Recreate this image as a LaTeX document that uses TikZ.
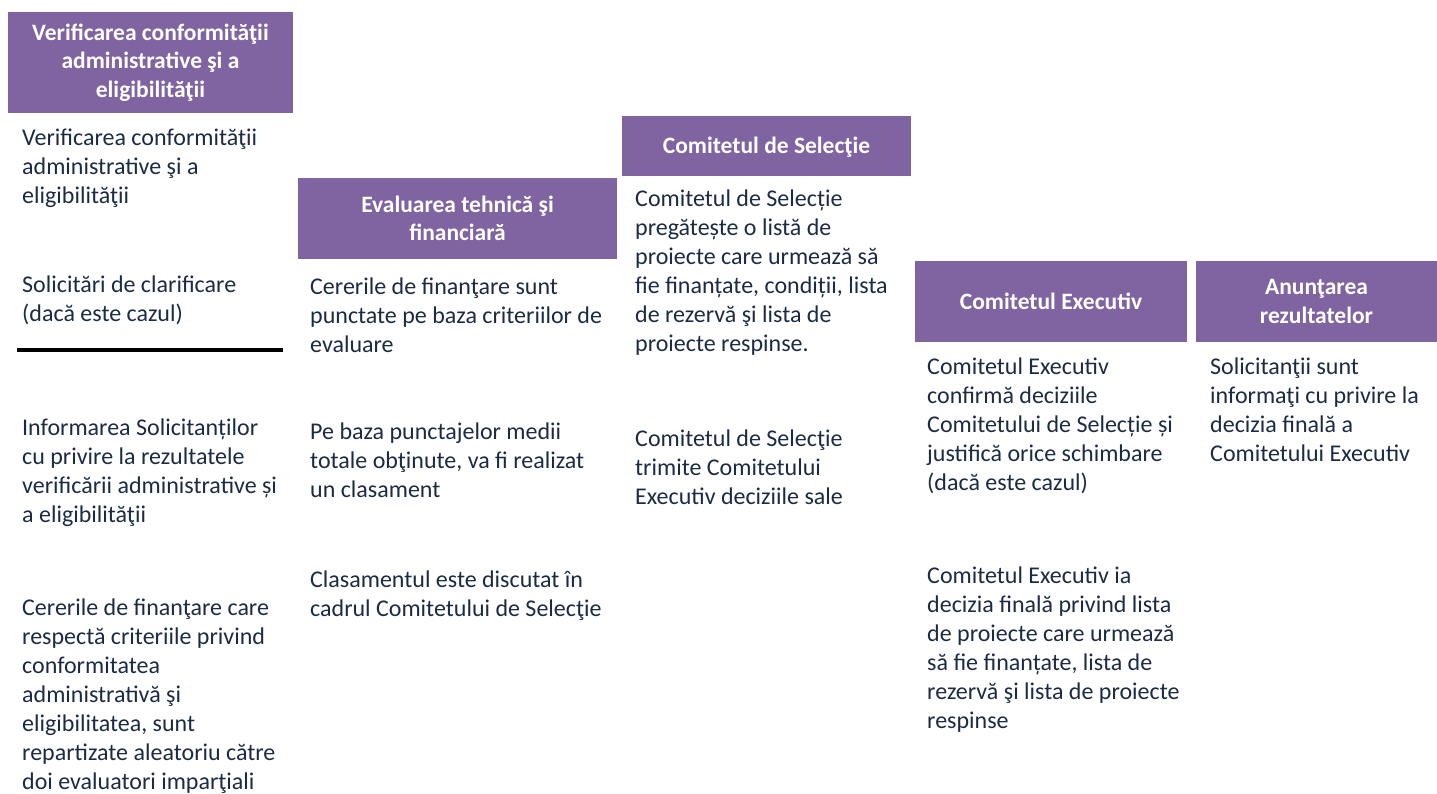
\documentclass[tikz,border=0pt]{standalone}
\usepackage{fontspec}
\setmainfont{Carlito}
\usepackage{tikz}
\usetikzlibrary{positioning}
\definecolor{hdrpurple}{HTML}{8064A2}
\definecolor{bodynavy}{HTML}{1C2B45}

\begin{document}
\begin{tikzpicture}[x=1pt, y=-1pt,
    header/.style={fill=hdrpurple, text=white, align=center, inner sep=0pt,
        font=\fontsize{23.5}{28.5}\selectfont\bfseries},
    body/.style={text=bodynavy, align=left, anchor=north west, inner sep=0pt,
        yshift=20.3pt, execute at begin node=\strut,
        font=\fontsize{24}{29}\selectfont}]
    \useasboundingbox (0,0) rectangle (1437,794);

    % Headers
    \node[header, minimum width=285pt, minimum height=101pt] (hdrVerif) at (150.5,62.5)
        {Verificarea conformităţii\\administrative şi a\\eligibilităţii};
    \node[header, minimum width=319pt, minimum height=81pt] (hdrEval) at (457.5,218.5)
        {Evaluarea tehnică şi\\financiară};
    \node[header, minimum width=289pt, minimum height=60pt, text depth=2pt] (hdrSel) at (766.5,146)
        {Comitetul de Selecţie};
    \node[header, minimum width=272pt, minimum height=81pt] (hdrExec) at (1051,301.5)
        {Comitetul Executiv};
    \node[header, minimum width=241pt, minimum height=81pt] (hdrAnunt) at (1316.5,301.5)
        {Anunţarea\\rezultatelor};

    % Column 1
    \node[body] (verifA) at (22,149)
        {Verificarea conformităţii\\administrative şi a\\eligibilităţii};
    \node[body] (verifB) at (22,296)
        {Solicitări de clarificare\\(dacă este cazul)};
    \coordinate (sepL) at (17,350);
    \coordinate (sepR) at (283,350);
    \draw[line width=4.5pt] (sepL) -- (sepR);
    \node[body] (verifC) at (22,439)
        {Informarea Solicitanților\\cu privire la rezultatele\\verificării administrative și\\a eligibilităţii};
    \node[body] (verifD) at (22,619)
        {Cererile de finanţare care\\respectă criteriile privind\\conformitatea\\administrativă şi\\eligibilitatea, sunt\\repartizate aleatoriu către\\doi evaluatori imparţiali};

    % Column 2
    \node[body] (evalA) at (310,298)
        {Cererile de finanţare sunt\\punctate pe baza criteriilor de\\evaluare};
    \node[body] (evalB) at (310,443)
        {Pe baza punctajelor medii\\totale obţinute, va fi realizat\\un clasament};
    \node[body] (evalC) at (310,591)
        {Clasamentul este discutat în\\cadrul Comitetului de Selecţie};

    % Column 3
    \node[body] (selA) at (635,210)
        {Comitetul de Selecție\\pregătește o listă de\\proiecte care urmează să\\fie finanțate, condiții, lista\\de rezervă şi lista de\\proiecte respinse.};
    \node[body] (selB) at (635,450)
        {Comitetul de Selecţie\\trimite Comitetului\\Executiv deciziile sale};

    % Column 4
    \node[body] (execA) at (927,378)
        {Comitetul Executiv\\confirmă deciziile\\Comitetului de Selecție și\\justifică orice schimbare\\(dacă este cazul)};
    \node[body] (execB) at (927,587)
        {Comitetul Executiv ia\\decizia finală privind lista\\de proiecte care urmează\\să fie finanțate, lista de\\rezervă şi lista de proiecte\\respinse};

    % Column 5
    \node[body] (anuntA) at (1210,378)
        {Solicitanţii sunt\\informaţi cu privire la\\decizia finală a\\Comitetului Executiv};
\end{tikzpicture}
\end{document}
